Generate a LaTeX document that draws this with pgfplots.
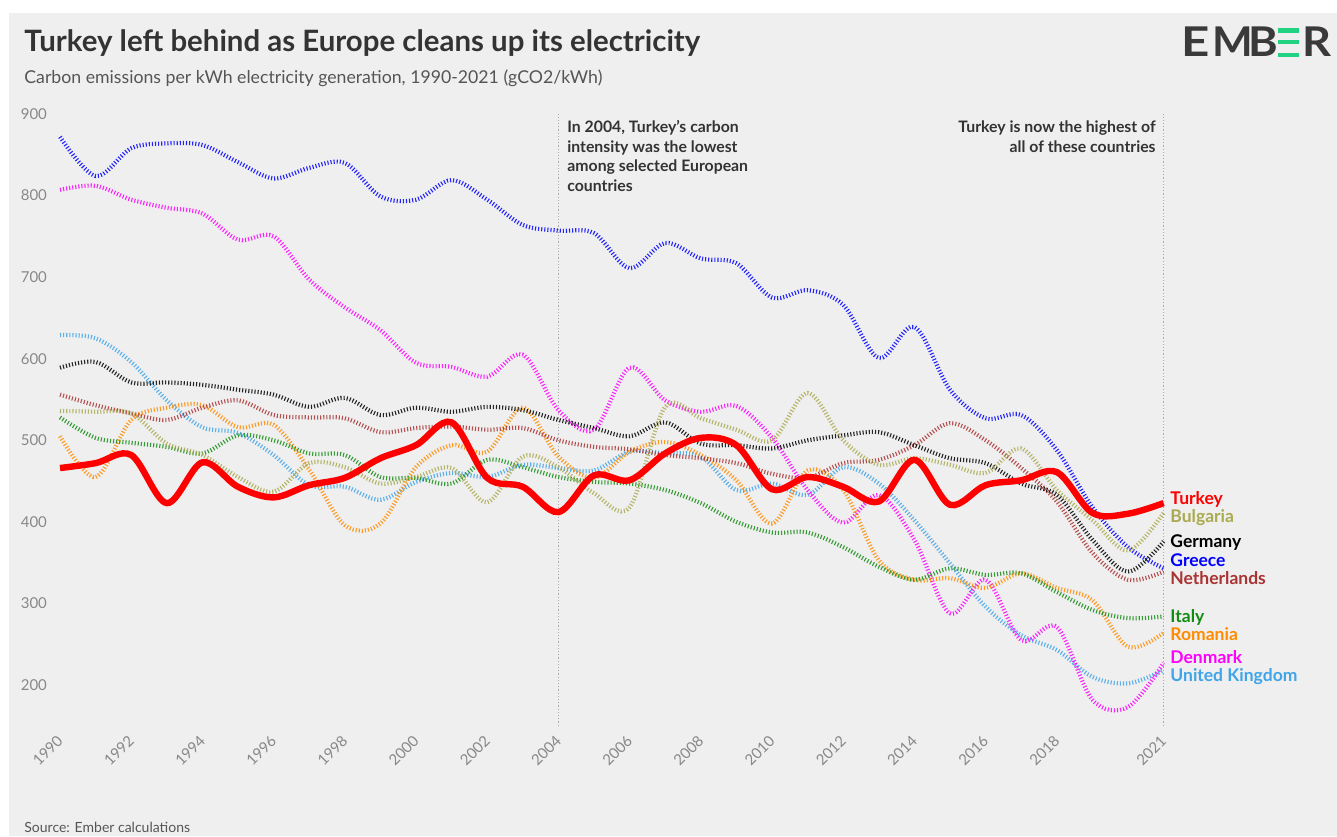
\documentclass[border=0pt]{standalone}
\usepackage{pgfplots}
\usepackage{pgfplotstable}
\pgfplotsset{compat=1.18}
\usepackage{fontspec}
\setmainfont{Lato}
\definecolor{bg}{RGB}{239,239,239}
\definecolor{txt}{RGB}{51,51,51}
\definecolor{subt}{RGB}{85,85,85}
\definecolor{tick}{RGB}{136,136,136}
\definecolor{cTur}{RGB}{255,0,0}
\definecolor{cBul}{RGB}{170,170,80}
\definecolor{cGer}{RGB}{0,0,0}
\definecolor{cGre}{RGB}{0,0,255}
\definecolor{cNet}{RGB}{170,51,51}
\definecolor{cIta}{RGB}{20,140,20}
\definecolor{cRom}{RGB}{255,140,0}
\definecolor{cDen}{RGB}{255,0,255}
\definecolor{cUK}{RGB}{64,164,232}
\definecolor{emgreen}{RGB}{32,210,130}

\pgfplotstableread{
year Turkey Bulgaria Germany Greece Netherlands Italy Romania Denmark UK
1990 466 536 589 872 556 528 505 807 629
1991 472 535 596 824 543 503 455 812 625
1992 482 533 571 858 533 497 525 795 596
1993 423 496 571 864 525 492 540 785 549
1994 473 482 568 862 540 484 543 778 516
1995 443 455 562 841 549 506 516 746 509
1996 430 437 556 821 531 500 519 750 482
1997 445 472 541 834 528 484 464 697 445
1998 454 467 552 840 527 482 396 663 443
1999 478 447 531 799 510 455 398 635 427
2000 494 455 540 795 515 454 467 595 449
2001 522 466 535 819 517 447 494 590 460
2002 454 424 541 795 513 476 486 578 455
2003 443 480 537 764 515 467 540 605 470
2004 412 467 525 757 500 455 480 537 466
2005 457 435 515 754 492 449 454 513 463
2006 451 418 505 711 489 447 486 589 486
2007 484 541 522 742 482 439 498 549 484
2008 503 527 496 723 478 423 482 535 480
2009 494 513 494 717 472 400 451 542 439
2010 440 500 490 675 459 387 398 503 447
2011 455 558 500 684 454 387 463 439 433
2012 443 500 506 666 472 369 439 399 467
2013 425 470 510 601 476 345 353 433 447
2014 476 478 494 639 494 329 329 378 402
2015 421 470 478 562 521 343 331 288 349
2016 445 460 472 527 500 335 319 329 296
2017 451 490 447 531 466 337 337 255 261
2018 461 439 433 488 425 314 319 271 243
2019 411 402 378 418 362 292 304 182 210
2020 410 365 339 369 329 282 247 173 202
2021 423 411 376 343 339 284 264 227 218
}\data

\begin{document}
\begin{tikzpicture}
\path[use as bounding box, fill=white] (0,0) rectangle (668.5pt,418pt);
\fill[bg] (4.5pt,0) rectangle (668.5pt,411.5pt);
\begin{scope}[x=0.5pt,y=-0.5pt,shift={(0pt,418pt)}]
  % title
  \node[anchor=base west, inner sep=0, text=txt, font=\fontsize{14.7}{17}\selectfont\bfseries] at (24,52) {Turkey left behind as Europe cleans up its electricity};
  \node[anchor=base west, inner sep=0, text=subt, font=\fontsize{8.85}{11}\selectfont] at (24,84) {Carbon emissions per kWh electricity generation, 1990-2021 (gCO2/kWh)};
  \node[anchor=base west, inner sep=0, text=subt, font=\fontsize{7}{9}\selectfont] at (24,832) {Source: Ember calculations};
  % logo
  \begin{scope}[every node/.style={anchor=base west, inner sep=0, text={rgb,255:red,58;green,58;blue,58}, font=\fontsize{20.5}{22}\selectfont\bfseries}]
    \node[xscale=1.2] at (1181,57) {E};
    \node[xscale=1.05] at (1212,57) {M};
    \node[xscale=1.1] at (1248,57) {B};
    \node[xscale=1.1] at (1302,57) {R};
  \end{scope}
  \fill[emgreen] (1278,28.3) rectangle (1299,32.6);
  \fill[emgreen] (1278,40.2) rectangle (1299,44.5);
  \fill[emgreen] (1278,52.6) rectangle (1299,56.9);
  % annotations
  \begin{scope}[every node/.style={inner sep=0, text=txt, font=\fontsize{7.9}{9}\selectfont\bfseries}]
    \node[anchor=base west] at (567,133) {In 2004, Turkey's carbon};
    \node[anchor=base west] at (567,152.5) {intensity was the lowest};
    \node[anchor=base west] at (567,172) {among selected European};
    \node[anchor=base west] at (567,191.5) {countries};
    \node[anchor=base east] at (1156,133) {Turkey is now the highest of};
    \node[anchor=base east] at (1156,152.5) {all of these countries};
  \end{scope}
\end{scope}
\begin{axis}[
  at={(30pt,55.1pt)}, anchor=south west,
  width=551.8pt, height=305.9pt, scale only axis,
  xmin=1990, xmax=2021, ymin=150, ymax=900,
  clip=false,
  axis lines*=left,
  axis line style={draw=black!6},
  tick style={draw=black!7},
  tick align=outside,
  major tick length=3.5pt,
  xtick={1990,1992,...,2018,2021},
  ytick={200,300,...,900},
  /pgf/number format/1000 sep={},
  /pgf/number format/assume math mode=true,
  tick label style={font=\fontsize{7.5}{9}\selectfont, text=tick},
  xticklabel style={rotate=45, anchor=east, yshift=-2pt, xshift=1.5pt},
  yticklabel style={xshift=0.5pt},
  every axis plot/.append style={smooth, tension=0.55},
  dotline/.style={line width=2.1pt, dash pattern=on 0.55pt off 1pt, opacity=0.85},
]
\addplot[no marks, sharp plot, draw={rgb,255:red,170;green,170;blue,170}, line width=0.6pt, dash pattern=on 0.6pt off 1pt] coordinates {(2004,150) (2004,900)};
\addplot[no marks, sharp plot, draw={rgb,255:red,170;green,170;blue,170}, line width=0.6pt, dash pattern=on 0.6pt off 1pt] coordinates {(2021,150) (2021,900)};
\addplot[no marks, cUK, dotline] table[x=year,y=UK] {\data};
\addplot[no marks, cDen, dotline] table[x=year,y=Denmark] {\data};
\addplot[no marks, cRom, dotline] table[x=year,y=Romania] {\data};
\addplot[no marks, cIta, dotline] table[x=year,y=Italy] {\data};
\addplot[no marks, cNet, dotline] table[x=year,y=Netherlands] {\data};
\addplot[no marks, cGre, dotline] table[x=year,y=Greece] {\data};
\addplot[no marks, cGer, dotline] table[x=year,y=Germany] {\data};
\addplot[no marks, cBul, dotline] table[x=year,y=Bulgaria] {\data};
\addplot[no marks, cTur, line width=3.2pt] table[x=year,y=Turkey] {\data};
\begin{scope}[every node/.style={anchor=base west, inner sep=0, xshift=3.2pt, yshift=-3pt, font=\fontsize{8.75}{10}\selectfont\bfseries}]
\node[text=cTur] at (axis cs:2021,429) {Turkey};
\node[text=cBul] at (axis cs:2021,406) {Bulgaria};
\node[text=cGer] at (axis cs:2021,376.5) {Germany};
\node[text=cGre] at (axis cs:2021,353) {Greece};
\node[text=cNet] at (axis cs:2021,331) {Netherlands};
\node[text=cIta] at (axis cs:2021,284.6) {Italy};
\node[text=cRom] at (axis cs:2021,262.5) {Romania};
\node[text=cDen] at (axis cs:2021,234) {Denmark};
\node[text=cUK] at (axis cs:2021,212) {United Kingdom};
\end{scope}
\end{axis}
\end{tikzpicture}
\end{document}
